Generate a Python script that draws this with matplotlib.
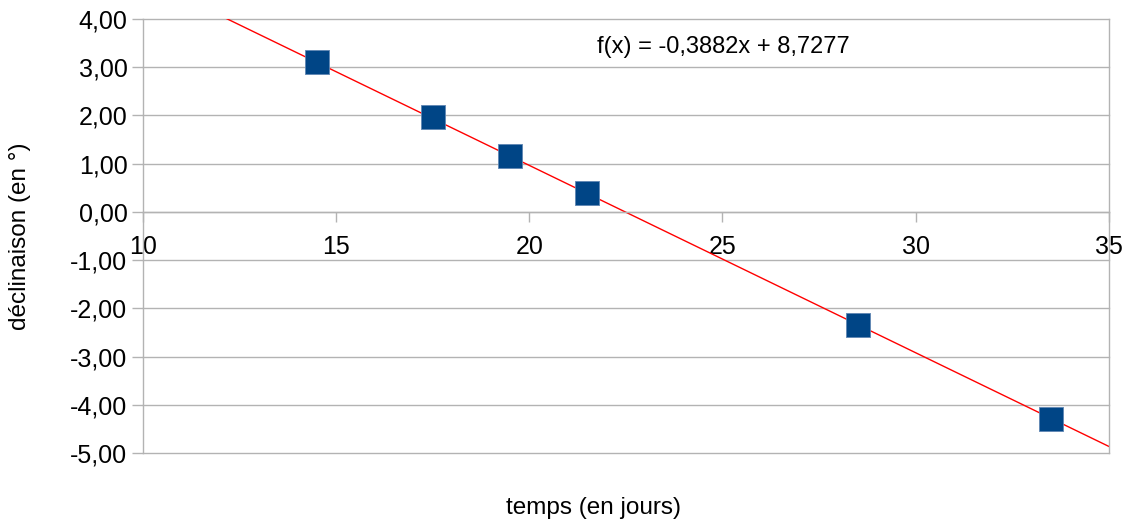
import numpy as np
import matplotlib
matplotlib.use("Agg")
import matplotlib.pyplot as plt

# temps (jours) / déclinaison (°)
temps = [14.5, 17.5, 19.5, 21.5, 28.5, 33.5]
declinaison = [3.10, 1.96, 1.16, 0.40, -2.34, -4.29]

# droite de tendance affichée
pente = -0.3882
origine = 8.7277

x_ticks = [10, 15, 20, 25, 30, 35]
y_ticks = [-5, -4, -3, -2, -1, 0, 1, 2, 3, 4]

plt.rcParams['font.family'] = ['Liberation Sans', 'DejaVu Sans']
grey = '#b3b3b3'

fig = plt.figure(figsize=(11.27, 5.21), dpi=100)
ax = fig.add_axes([0.1266, 0.13, 0.8574, 0.834])

xs = np.array([10, 35])
ax.plot(xs, pente * xs + origine, color='#ff0000', lw=1.0, zorder=2)
ax.scatter(temps, declinaison, marker='s', s=300, color='#004586',
           edgecolors='#5f86b3', linewidths=0.6, zorder=3)

ax.set_xlim(10, 35)
ax.set_ylim(-5, 4)
ax.set_xticks(x_ticks)
ax.set_yticks(y_ticks)
ax.set_yticklabels([f"{v:.2f}".replace('.', ',') for v in y_ticks])

ax.grid(axis='y', color=grey, lw=1.0)
for gl in ax.get_ygridlines():
    gl.set_clip_on(False)
ax.set_axisbelow(True)

ax.spines['bottom'].set_position(('data', 0))
ax.spines['top'].set_visible(False)
for s in ['left', 'right', 'bottom']:
    ax.spines[s].set_color(grey)
    ax.spines[s].set_linewidth(1.0)
ax.tick_params(axis='both', colors=grey, labelcolor='black', labelsize=18, width=1.0)
ax.tick_params(axis='y', length=8, pad=3)
ax.tick_params(axis='x', length=7, pad=10)

ax.text(21.75, 3.42, "f(x) = -0,3882x + 8,7277", fontsize=17, ha='left', va='center')

fig.text(0.0177, 0.547, "déclinaison (en °)", fontsize=17.5, rotation=90,
         ha='center', va='center')
fig.text(0.527, 0.025, "temps (en jours)", fontsize=17.5, ha='center', va='center')

fig.savefig("out.png", dpi=100)
